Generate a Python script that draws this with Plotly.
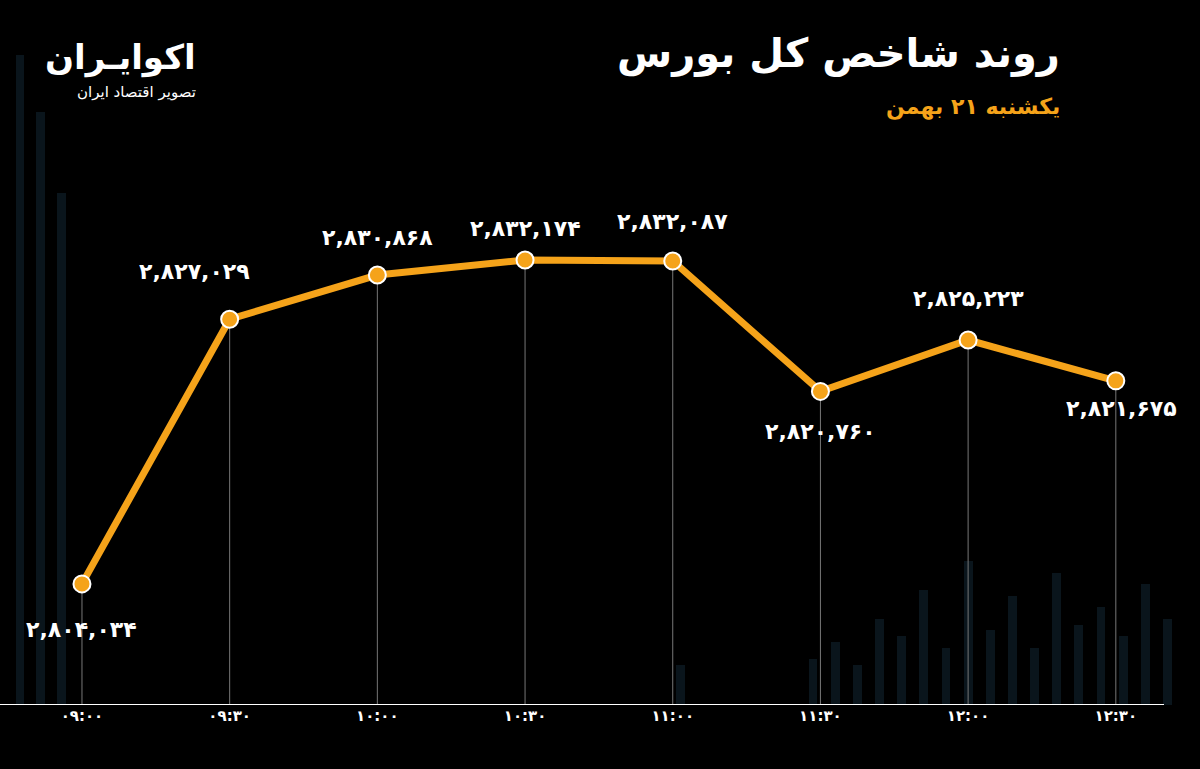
import plotly.graph_objects as go

times = ["09:00","09:30","10:00","10:30","11:00","11:30","12:00","12:30"]
values = [2804034, 2827029, 2830868, 2832174, 2832087, 2820760, 2825223, 2821675]
label_dy = [-46, 48, 38, 32, 40, -40, 42, -28]
label_dx = [0, -35, 0, 0, 0, 0, 0, 6]

fa = str.maketrans("0123456789", "۰۱۲۳۴۵۶۷۸۹")
def fa_num(v):
    return f"{v:,}".translate(fa)

y_min, y_max = 2793512, 2854763
x = list(range(len(times)))

deco_x = [-0.42, -0.28, -0.14, 4.05, 4.95, 5.1, 5.25, 5.4, 5.55, 5.7, 5.85, 6.0, 6.15, 6.3, 6.45, 6.6, 6.75, 6.9, 7.05, 7.2, 7.35]
deco_top = [2850000, 2845000, 2838000, 2797000, 2797500, 2799000, 2797000, 2801000, 2799500, 2803500, 2798500, 2806000, 2800000, 2803000, 2798500, 2805000, 2800500, 2802000, 2799500, 2804000, 2801000]

fig = go.Figure()
fig.add_trace(go.Bar(x=deco_x, y=[h - y_min for h in deco_top], base=y_min,
                     width=0.06, marker_color="rgba(30,60,80,0.35)", marker_line_width=0,
                     hoverinfo="skip", showlegend=False))
fig.add_trace(go.Scatter(
    x=x, y=values, mode="lines+markers",
    line=dict(color="#F5A31A", width=7),
    marker=dict(size=17, color="#F5A31A", line=dict(color="white", width=2)),
    error_y=dict(type="data", symmetric=False, array=[0]*len(values),
                 arrayminus=[v - y_min for v in values], color="#777777", thickness=1, width=0),
    showlegend=False, cliponaxis=False))

ann = [dict(x=xi, y=v, text="<b>" + fa_num(v) + "</b>", showarrow=False, xref="x", yref="y",
            yshift=dy, xshift=dx, font=dict(family="DejaVu Sans", size=22, color="white"))
       for xi, v, dy, dx in zip(x, values, label_dy, label_dx)]
ann += [
    dict(text="<b>روند شاخص کل بورس</b>", xref="paper", yref="paper", x=0.885, y=0.96,
         xanchor="right", yanchor="top", showarrow=False,
         font=dict(family="DejaVu Sans", size=40, color="white")),
    dict(text="<b>یکشنبه ۲۱ بهمن</b>", xref="paper", yref="paper", x=0.885, y=0.87,
         xanchor="right", yanchor="top", showarrow=False,
         font=dict(family="DejaVu Sans", size=22, color="#F5A31A")),
    dict(text="<b>اکوایـران</b>", xref="paper", yref="paper", x=0.165, y=0.95,
         xanchor="right", yanchor="top", showarrow=False,
         font=dict(family="DejaVu Sans", size=34, color="white")),
    dict(text="تصویر اقتصاد ایران", xref="paper", yref="paper", x=0.165, y=0.885,
         xanchor="right", yanchor="top", showarrow=False,
         font=dict(family="DejaVu Sans", size=15, color="white")),
]

fig.update_layout(
    width=1200, height=769, paper_bgcolor="black", plot_bgcolor="black",
    margin=dict(l=0, r=0, t=0, b=64), bargap=0,
    xaxis=dict(range=[-0.555, 7.57], tickvals=x, ticktext=["<b>" + t.translate(fa) + "</b>" for t in times],
               showgrid=False, zeroline=False, showline=False,
               tickfont=dict(family="DejaVu Sans", size=15, color="white"), ticks=""),
    yaxis=dict(range=[y_min, y_max], visible=False),
    shapes=[dict(type="line", xref="paper", yref="y", x0=0.0, x1=0.97, y0=y_min, y1=y_min,
                 line=dict(color="white", width=2))],
    annotations=ann,
)
fig.write_html("out.html", config={"displayModeBar": False},
               post_script="document.body.style.margin='0';document.body.style.background='black';")
